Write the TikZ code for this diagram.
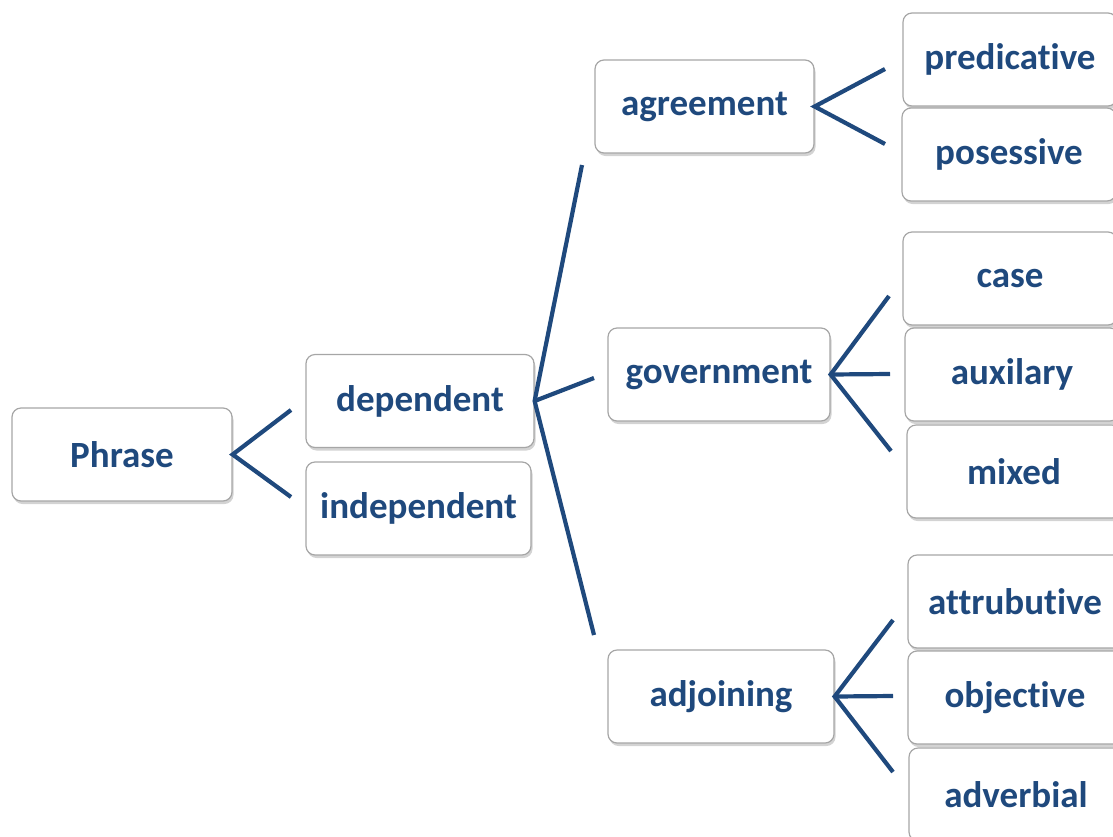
\documentclass[tikz,border=0pt]{standalone}
\usepackage{fontspec}
\setmainfont{Carlito}[Ligatures={NoCommon}]
\usetikzlibrary{shadows}
\definecolor{dblue}{HTML}{1F497D}
\definecolor{boxline}{HTML}{A6A6A6}
\tikzset{
  box/.style={draw=boxline, fill=white, rounded corners=9pt, line width=1.2pt,
    minimum height=93pt, inner sep=0pt, text=dblue,
    font=\bfseries\fontsize{37}{40}\selectfont,
    drop shadow={shadow xshift=1.5pt, shadow yshift=-3pt, opacity=0.35, fill=gray}},
  leaf/.style={box, minimum width=214pt},
  conn/.style={draw=dblue, line width=4.2pt}
}
\begin{document}
\begin{tikzpicture}[x=1pt,y=-1pt]
\useasboundingbox (0,0) rectangle (1113,836);
% level 0
\node[box, minimum width=220pt] (phrase) at (122,454.5) {Phrase};
% level 1
\node[box, minimum width=228pt] (dep) at (420,401) {dependent};
\node[box, minimum width=225pt] (indep) at (418.5,508.5) {independent};
% level 2
\node[box, minimum width=219pt] (agr) at (704.5,106.5) {agreement};
\node[box, minimum width=222pt] (gov) at (719,374.5) {government};
\node[box, minimum width=226pt] (adj) at (721,696.5) {adjoining};
% level 3
\node[leaf] (pred) at (1010,59.5) {predicative};
\node[leaf] (pos) at (1009,154.5) {posessive};
\node[leaf] (case) at (1010,278.5) {case};
\node[leaf] (aux) at (1012,374.5) {auxilary};
\node[leaf] (mix) at (1014,471.5) {mixed};
\node[leaf] (attr) at (1015,601.5) {attrubutive};
\node[leaf] (obj) at (1015,697.5) {objective};
\node[leaf] (adv) at (1016,794.5) {adverbial};
% connector free ends
\coordinate (p1) at (291,410);
\coordinate (p2) at (291,497);
\coordinate (d1) at (582,165);
\coordinate (d2) at (594,378);
\coordinate (d3) at (594,635);
\coordinate (a1) at (885,69);
\coordinate (a2) at (885,144);
\coordinate (g1) at (889,296);
\coordinate (g2) at (890,374);
\coordinate (g3) at (891,451);
\coordinate (j1) at (893,620);
\coordinate (j2) at (893,696);
\coordinate (j3) at (893,772);
% connectors
\draw[conn] (p1) -- (phrase.east) -- (p2);
\draw[conn] (d1) -- (dep.east) -- (d3);
\draw[conn] (dep.east) -- (d2);
\draw[conn] (a1) -- (agr.east) -- (a2);
\draw[conn] (g1) -- (gov.east) -- (g3);
\draw[conn] (gov.east) -- (g2);
\draw[conn] (j1) -- (adj.east) -- (j3);
\draw[conn] (adj.east) -- (j2);
\end{tikzpicture}
\end{document}
